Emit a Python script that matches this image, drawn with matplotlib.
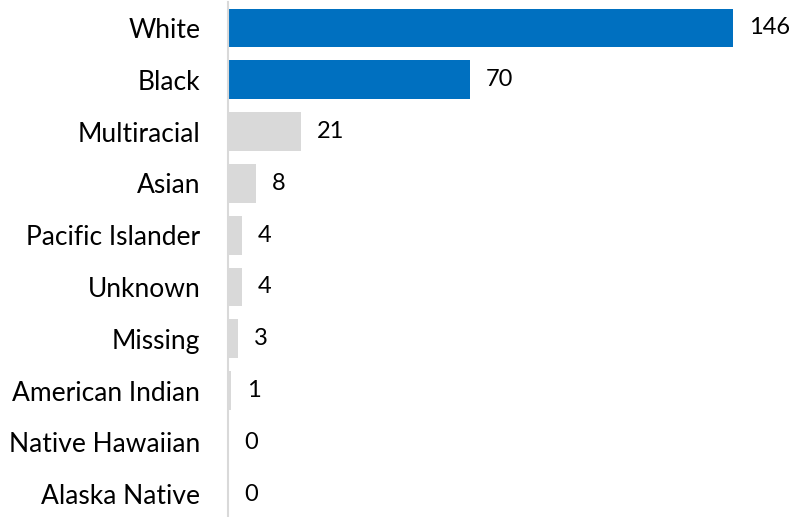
import matplotlib.pyplot as plt

categories = ["White", "Black", "Multiracial", "Asian", "Pacific Islander",
              "Unknown", "Missing", "American Indian", "Native Hawaiian",
              "Alaska Native"]
counts = [146, 70, 21, 8, 4, 4, 3, 1, 0, 0]
highlight = ["White", "Black"]

blue = "#0070C0"
grey = "#D9D9D9"
colors = [blue if c in highlight else grey for c in categories]

plt.rcParams["font.family"] = ["Lato", "DejaVu Sans"]

fig = plt.figure(figsize=(7.93, 5.17), dpi=100)
ax = fig.add_axes([0.2875, -0.006, 0.7125, 1.002])

y = list(range(len(categories)))
ax.barh(y, counts, height=0.75, color=colors)
for yi, v in zip(y, counts):
    ax.text(v + 4.6, yi, str(v), va="center", ha="left", fontsize=17, color="black")

ax.set_yticks(y)
ax.set_yticklabels(categories, fontsize=19)
ax.tick_params(axis="y", length=0, pad=20)
ax.set_xticks([])
ax.set_xlim(0, 163.3)
ax.set_ylim(9.5, -0.5)

for s in ["top", "right", "bottom"]:
    ax.spines[s].set_visible(False)
ax.spines["left"].set_color(grey)
ax.spines["left"].set_linewidth(1.5)

fig.savefig("out.png", dpi=100)
